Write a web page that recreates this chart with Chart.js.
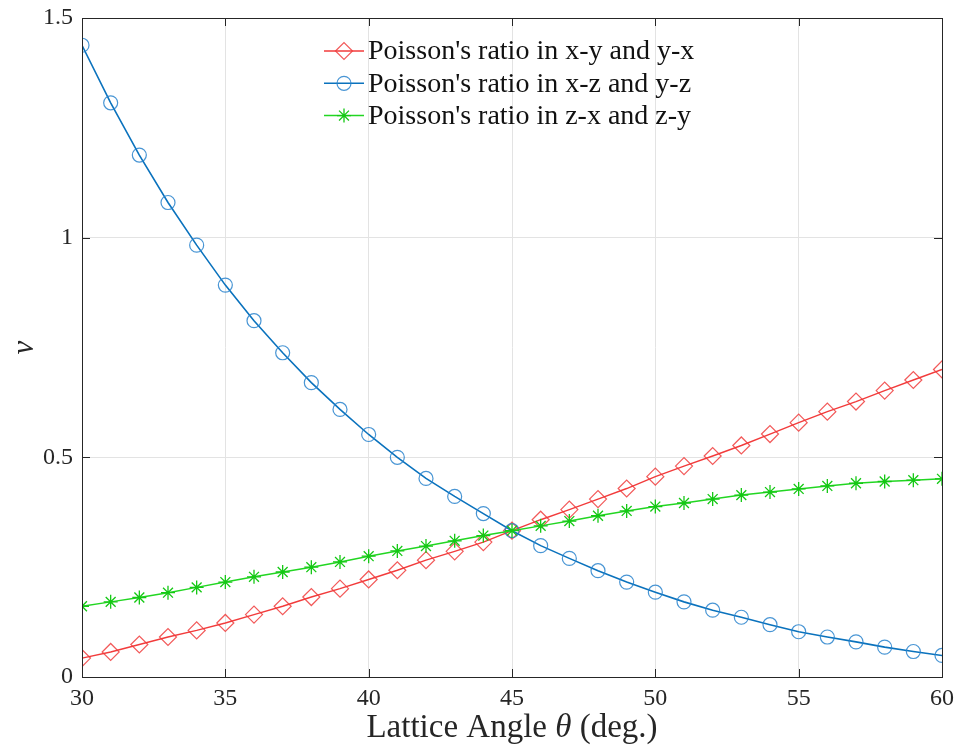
<!DOCTYPE html>
<html>
<head>
<meta charset="utf-8">
<title>Poisson's ratio vs lattice angle</title>
<script src="https://cdn.jsdelivr.net/npm/chart.js@4.4.0/dist/chart.umd.min.js"></script>
<style>
  html, body { margin: 0; padding: 0; background: #fff; }
  #wrap { width: 958px; height: 755px; }
</style>
</head>
<body>
<div id="wrap"><canvas id="poissonChart" width="958" height="755"></canvas></div>
<script>
// lattice angle (deg.)
const angles = [30, 31, 32, 33, 34, 35, 36, 37, 38, 39, 40, 41, 42, 43, 44, 45,
                46, 47, 48, 49, 50, 51, 52, 53, 54, 55, 56, 57, 58, 59, 60];

// Poisson's ratio in x-y and y-x
const nuXY = [0.043, 0.057, 0.074, 0.091, 0.106, 0.123, 0.142, 0.161, 0.182, 0.201, 0.222,
              0.243, 0.266, 0.286, 0.307, 0.333, 0.358, 0.381, 0.405, 0.429, 0.456,
              0.480, 0.503, 0.527, 0.553, 0.579, 0.604, 0.627, 0.652, 0.676, 0.700];

// Poisson's ratio in x-z and y-z
const nuXZ = [1.438, 1.307, 1.188, 1.080, 0.983, 0.892, 0.811, 0.738, 0.670, 0.609, 0.552,
              0.500, 0.452, 0.411, 0.372, 0.333, 0.299, 0.270, 0.242, 0.216, 0.193,
              0.171, 0.152, 0.136, 0.119, 0.103, 0.091, 0.080, 0.068, 0.058, 0.049];

// Poisson's ratio in z-x and z-y
const nuZX = [0.161, 0.171, 0.181, 0.192, 0.204, 0.216, 0.228, 0.239, 0.250, 0.262, 0.275,
              0.287, 0.298, 0.310, 0.322, 0.333, 0.344, 0.355, 0.367, 0.378, 0.388,
              0.396, 0.405, 0.414, 0.421, 0.428, 0.435, 0.441, 0.445, 0.448, 0.451];

const seriesLabels = [
    "Poisson's ratio in x-y and y-x",
    "Poisson's ratio in x-z and y-z",
    "Poisson's ratio in z-x and z-y"
];

const xTicks = [30, 35, 40, 45, 50, 55, 60];
const yTicks = [0, 0.5, 1, 1.5];

const serif = "'Liberation Serif', 'DejaVu Serif', serif";
const axisColor = "#262626";

function toPoints(values) {
    return angles.map((a, i) => ({ x: a, y: values[i] }));
}

// box around the plot area with inward tick marks on all four sides
const boxPlugin = {
    id: "boxTicks",
    afterDatasetsDraw(chart) {
        const { ctx, chartArea: ca, scales } = chart;
        const len = 8;
        ctx.save();
        ctx.strokeStyle = axisColor;
        ctx.lineWidth = 1;
        ctx.beginPath();
        xTicks.forEach(v => {
            const px = Math.round(scales.x.getPixelForValue(v)) + 0.5;
            ctx.moveTo(px, ca.bottom); ctx.lineTo(px, ca.bottom - len);
            ctx.moveTo(px, ca.top); ctx.lineTo(px, ca.top + len);
        });
        yTicks.forEach(v => {
            const py = Math.round(scales.y.getPixelForValue(v)) + 0.5;
            ctx.moveTo(ca.left, py); ctx.lineTo(ca.left + len, py);
            ctx.moveTo(ca.right, py); ctx.lineTo(ca.right - len, py);
        });
        ctx.stroke();
        ctx.strokeRect(Math.round(ca.left) + 0.5, Math.round(ca.top) + 0.5,
                       Math.round(ca.right - ca.left), Math.round(ca.bottom - ca.top));
        ctx.restore();
    }
};

// x-axis label with an italic theta, centred under the plot area
const xLabelPlugin = {
    id: "xLabel",
    afterDraw(chart) {
        const { ctx, chartArea: ca } = chart;
        const parts = [
            { t: "Lattice Angle ", f: "33px " + serif },
            { t: "\u03B8", f: "italic 33px " + serif },
            { t: " (deg.)", f: "33px " + serif }
        ];
        ctx.save();
        let total = 0;
        parts.forEach(p => { ctx.font = p.f; p.w = ctx.measureText(p.t).width; total += p.w; });
        let x = (ca.left + ca.right) / 2 - total / 2;
        const y = 737;
        ctx.fillStyle = axisColor;
        ctx.textBaseline = "alphabetic";
        ctx.textAlign = "left";
        parts.forEach(p => { ctx.font = p.f; ctx.fillText(p.t, x, y); x += p.w; });
        ctx.restore();
    }
};

// legend drawn inside the top of the plot area, no frame
const innerLegend = {
    id: "innerLegend",
    afterDraw(chart) {
        const { ctx, chartArea: ca } = chart;
        const x0 = ca.left + 242;
        const y0 = ca.top + 33;
        const rowH = 32.3;
        ctx.save();
        chart.data.datasets.forEach((ds, i) => {
            const y = y0 + i * rowH;
            ctx.strokeStyle = ds.borderColor;
            ctx.lineWidth = 1.5;
            ctx.beginPath();
            ctx.moveTo(x0, y);
            ctx.lineTo(x0 + 40, y);
            ctx.stroke();
            ctx.strokeStyle = ds.pointBorderColor;
            ctx.fillStyle = "rgba(255,255,255,0)";
            ctx.lineWidth = ds.pointBorderWidth;
            Chart.helpers.drawPoint(ctx, {
                pointStyle: ds.pointStyle,
                radius: ds.pointRadius,
                rotation: 0,
                borderWidth: ds.pointBorderWidth
            }, x0 + 20, y);
            ctx.fillStyle = "#111";
            ctx.font = "28px " + serif;
            ctx.textBaseline = "middle";
            ctx.textAlign = "left";
            ctx.fillText(ds.label, x0 + 44, y + 1);
        });
        ctx.restore();
    }
};

new Chart(document.getElementById("poissonChart"), {
    type: "line",
    data: {
        datasets: [
            {
                label: seriesLabels[0],
                data: toPoints(nuXY),
                borderColor: "#f23b3b",
                borderWidth: 1.4,
                pointStyle: "rectRot",
                pointRadius: 8.5,
                pointBorderColor: "rgba(240, 60, 60, 0.85)",
                pointBorderWidth: 1.2,
                pointBackgroundColor: "rgba(0,0,0,0)",
                order: 3
            },
            {
                label: seriesLabels[1],
                data: toPoints(nuXZ),
                borderColor: "#0a72bd",
                borderWidth: 1.6,
                pointStyle: "circle",
                pointRadius: 7,
                pointBorderColor: "rgba(40, 130, 205, 0.85)",
                pointBorderWidth: 1.2,
                pointBackgroundColor: "rgba(0,0,0,0)",
                order: 2
            },
            {
                label: seriesLabels[2],
                data: toPoints(nuZX),
                borderColor: "#22d622",
                borderWidth: 1.5,
                pointStyle: "star",
                pointRadius: 7,
                pointBorderColor: "#14c814",
                pointBorderWidth: 1.3,
                pointBackgroundColor: "rgba(0,0,0,0)",
                order: 1
            }
        ]
    },
    options: {
        responsive: false,
        animation: false,
        layout: { padding: { top: 18, right: 16, left: 0, bottom: 0 } },
        elements: { line: { tension: 0 } },
        plugins: {
            legend: { display: false },
            tooltip: { enabled: false }
        },
        scales: {
            x: {
                type: "linear",
                min: 30,
                max: 60,
                afterBuildTicks: s => { s.ticks = xTicks.map(v => ({ value: v })); },
                afterFit: s => { s.height = 78; s.paddingLeft = 0; s.paddingRight = 0; },
                grid: { color: "#e3e3e3", drawTicks: false, lineWidth: 1 },
                border: { display: false },
                ticks: {
                    color: axisColor,
                    padding: 7,
                    font: { family: serif, size: 24 },
                    callback: v => String(v)
                }
            },
            y: {
                min: 0,
                max: 1.5,
                afterBuildTicks: s => { s.ticks = yTicks.map(v => ({ value: v })); },
                afterFit: s => { s.width = 82; s.paddingTop = 0; s.paddingBottom = 0; },
                grid: { color: "#e3e3e3", drawTicks: false, lineWidth: 1 },
                border: { display: false },
                ticks: {
                    color: axisColor,
                    padding: 9,
                    font: { family: serif, size: 24 },
                    callback: v => String(v)
                },
                title: {
                    display: true,
                    text: "\u03BD",
                    color: axisColor,
                    padding: { top: 6, bottom: 0 },
                    font: { family: serif, size: 31, style: "italic" }
                }
            }
        }
    },
    plugins: [boxPlugin, xLabelPlugin, innerLegend]
});
</script>
</body>
</html>
